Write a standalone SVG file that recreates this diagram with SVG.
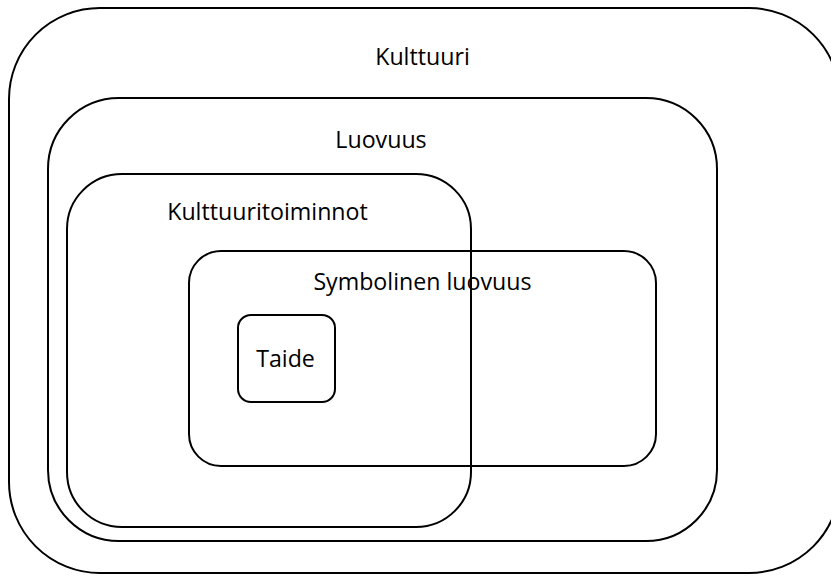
<svg xmlns="http://www.w3.org/2000/svg" width="831" height="576" viewBox="0 0 831 576">
  <style>
    .box { fill: none; stroke: #000; stroke-width: 2; }
    .lbl { font-family: "Open Sans", "Liberation Sans", sans-serif; font-size: 23.2px; fill: #000; text-anchor: middle; }
  </style>
  <rect width="831" height="576" fill="#fff"/>
  <g id="kulttuuri">
    <rect class="box" x="9" y="8" width="831" height="565" rx="91" ry="91"/>
    <text class="lbl" x="422.5" y="65">Kulttuuri</text>
  </g>
  <g id="luovuus">
    <rect class="box" x="48" y="98" width="669" height="443" rx="71" ry="71"/>
    <text class="lbl" x="381" y="148">Luovuus</text>
  </g>
  <g id="kulttuuritoiminnot">
    <rect class="box" x="67" y="174" width="404" height="353" rx="55" ry="55"/>
    <text class="lbl" x="267.5" y="220">Kulttuuritoiminnot</text>
  </g>
  <g id="symbolinen-luovuus">
    <rect class="box" x="189" y="251" width="467" height="215" rx="32" ry="32"/>
    <text class="lbl" x="422.5" y="290">Symbolinen luovuus</text>
  </g>
  <g id="taide">
    <rect class="box" x="238" y="315" width="97" height="87" rx="13" ry="13"/>
    <text class="lbl" x="285.5" y="367">Taide</text>
  </g>
  <g id="connectors"/>
</svg>
